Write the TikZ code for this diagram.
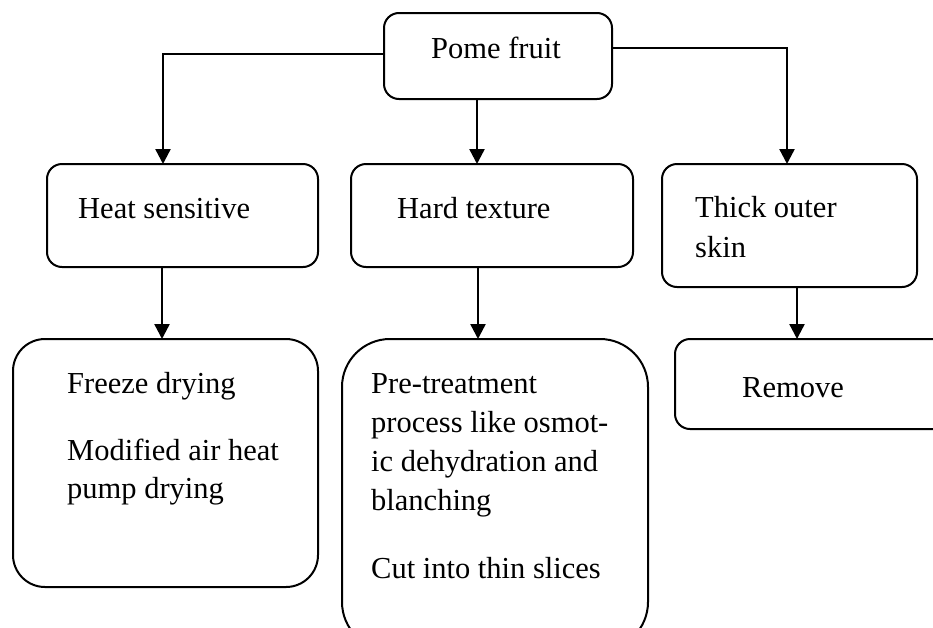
\documentclass[tikz,border=0pt]{standalone}
\usepackage{fontspec}
\setmainfont{Liberation Serif}
\usetikzlibrary{arrows.meta}

\tikzset{
  box/.style={draw, line width=2pt, rectangle, rounded corners=#1,
    inner sep=0pt, outer sep=0pt},
  box/.default=15pt,
  conn/.style={line width=2.4pt, -{Triangle[width=15pt,length=15pt]}},
  line/.style={line width=2.4pt},
  txt/.style={anchor=base west, inner sep=0pt,
    font=\fontsize{30.5}{38}\selectfont}
}

\begin{document}
\begin{tikzpicture}[x=1pt, y=-1pt]
  \useasboundingbox (0,0) rectangle (933,627);

  % boxes
  \node[box, minimum width=228pt, minimum height=86pt]  (pome)   at (498,56)    {};
  \node[box, minimum width=271pt, minimum height=103pt] (heat)   at (182.5,215.5) {};
  \node[box, minimum width=282pt, minimum height=103pt] (hard)   at (492,215.5) {};
  \node[box, minimum width=255pt, minimum height=123pt] (thick)  at (789.5,225.5) {};
  \node[box=32pt, minimum width=305pt, minimum height=248pt] (freeze) at (165.5,463) {};
  \node[box=48pt, minimum width=306pt, minimum height=311pt] (pre)    at (495,494.5) {};
  \node[box, minimum width=285pt, minimum height=90pt]  (remove) at (817.5,384) {};

  % labels
  \node[txt] (tpome)  at (431,58)  {Pome fruit};
  \node[txt] (theat)  at (78,218)  {Heat sensitive};
  \node[txt] (thard)  at (397,218) {Hard texture};
  \node[txt] (tthk1)  at (695,217) {Thick outer};
  \node[txt] (tthk2)  at (695,257) {skin};
  \node[txt] (trem)   at (742,397) {Remove};
  \node[txt] (tfr1)   at (67,393)  {Freeze drying};
  \node[txt] (tfr2)   at (67,460)  {Modified air heat};
  \node[txt] (tfr3)   at (67,498)  {pump drying};
  \node[txt] (tpr1)   at (371,393) {Pre-treatment};
  \node[txt] (tpr2)   at (371,432) {process like osmot-};
  \node[txt] (tpr3)   at (371,471) {ic dehydration and};
  \node[txt] (tpr4)   at (371,510) {blanching};
  \node[txt] (tpr5)   at (371,578) {Cut into thin slices};

  % connectors
  \draw[conn] ([yshift=2pt]pome.west) -| (heat.north -| 163,0);
  \draw[conn] (pome.south -| 477,0) -- (hard.north -| 477,0);
  \draw[conn] ([yshift=8pt]pome.east) -| (thick.north -| 787,0);
  \draw[conn] (heat.south -| 162,0) -- (freeze.north -| 162,0);
  \draw[conn] (hard.south -| 478,0) -- (pre.north -| 478,0);
  \draw[conn] (thick.south -| 797,0) -- (remove.north -| 797,0);
\end{tikzpicture}
\end{document}
